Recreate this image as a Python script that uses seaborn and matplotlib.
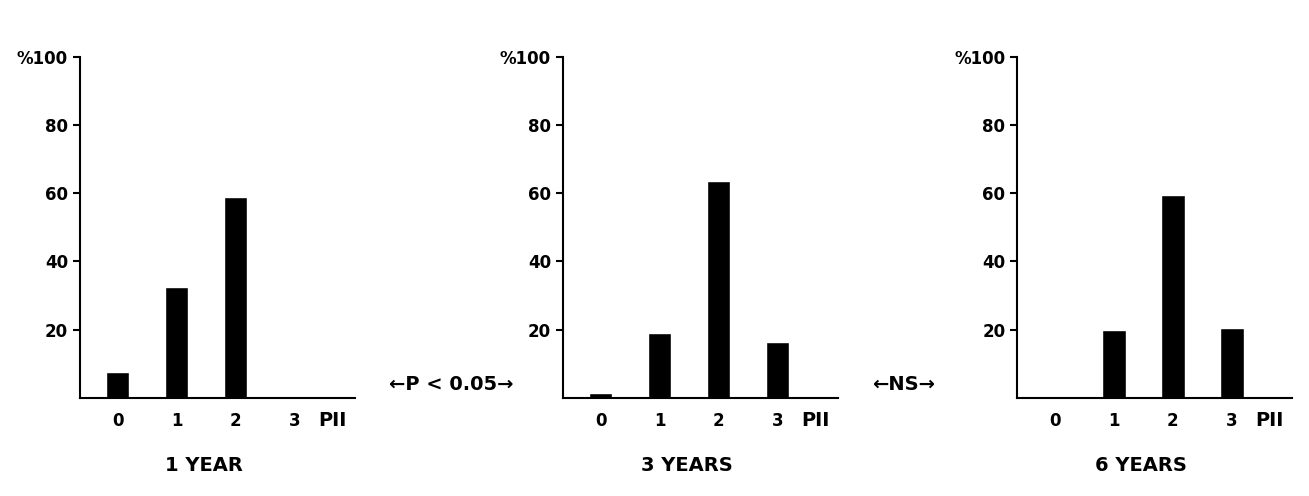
import matplotlib
matplotlib.use("Agg")
import matplotlib.pyplot as plt
import seaborn as sns
import pandas as pd

sns.set_style("white")
plt.rcParams['font.family'] = ['DejaVu Sans']
plt.rcParams['text.color'] = 'black'
plt.rcParams['xtick.color'] = 'black'
plt.rcParams['ytick.color'] = 'black'

categories = ["0", "1", "2", "3"]
year1 = [7.5, 32.5, 59, 0]
year3 = [1.5, 19, 63.5, 16.5]
year6 = [0, 20, 59.5, 20.5]
titles = ["1 YEAR", "3 YEARS", "6 YEARS"]
yticks = [20, 40, 60, 80, 100]
ylabels = ["20", "40", "60", "80", "%100"]

fig = plt.figure(figsize=(13.09, 4.96), dpi=100)
lefts = [0.061, 0.43, 0.777]
for left, vals, title in zip(lefts, [year1, year3, year6], titles):
    ax = fig.add_axes([left, 0.198, 0.21, 0.687])
    df = pd.DataFrame({"pii": categories, "pct": vals})
    sns.barplot(data=df, x="pii", y="pct", color="black", width=0.4, ax=ax, saturation=1)
    ax.set_xlim(-0.64, 4.02)
    ax.set_ylim(0, 100)
    ax.set_yticks(yticks)
    ax.set_yticklabels(ylabels, fontweight="bold", fontsize=12)
    ax.set_xticks(range(4))
    ax.set_xticklabels(categories, fontweight="bold", fontsize=12)
    ax.tick_params(axis="x", length=0, pad=10)
    ax.tick_params(axis="y", length=5, width=1.5, left=True, direction="out")
    ax.set_xlabel("")
    ax.set_ylabel("")
    for s in ["top", "right"]:
        ax.spines[s].set_visible(False)
    for s in ["left", "bottom"]:
        ax.spines[s].set_linewidth(1.5)
        ax.spines[s].set_color("black")
    ax.text(3.4, -4, "PII", transform=ax.transData, ha="left", va="top",
            fontweight="bold", fontsize=14)
    ax.text(0.45, -0.2, title, transform=ax.transAxes, ha="center", va="center",
            fontweight="bold", fontsize=14)

fig.text(0.345, 0.225, "\u2190P < 0.05\u2192", ha="center", va="center", fontweight="bold", fontsize=14)
fig.text(0.69, 0.225, "\u2190NS\u2192", ha="center", va="center", fontweight="bold", fontsize=14)

fig.savefig("out.png", dpi=100)
